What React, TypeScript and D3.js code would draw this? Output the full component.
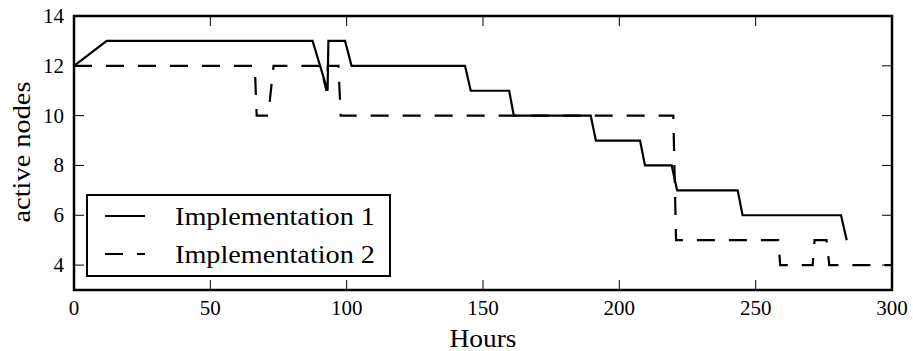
import React, { useRef, useEffect } from 'react';
import * as d3 from 'd3';

// values
const impl1Hours = [0, 12, 87.5, 93, 93.3, 99.4, 101.8, 143.4, 145.5, 159.6, 161.3, 189.5, 191.4, 207.6, 209.4, 219.2, 221.2, 243.4, 245.2, 281.3, 283.4];
const impl1Nodes = [12, 13, 13, 11, 13, 13, 12, 12, 11, 11, 10, 10, 9, 9, 8, 8, 7, 7, 6, 6, 5];

const impl2Hours = [0, 66.3, 67, 71.2, 73.2, 90.3, 92.6, 93.1, 97, 97.8, 219.8, 220.8, 258.3, 259, 270.9, 271.6, 276, 277, 300];
const impl2Nodes = [12, 12, 10, 10, 12, 12, 11, 12, 12, 10, 10, 5, 5, 4, 4, 5, 5, 4, 4];

const xTicks = [0, 50, 100, 150, 200, 250, 300];
const yTicks = [4, 6, 8, 10, 12, 14];
const seriesNames = ['Implementation 1', 'Implementation 2'];

const W = 913, H = 351;
const left = 74, right = 892, top = 16, bottom = 290;
const FONT = '"Liberation Serif", serif';
const DASH = '18 14';

const App = () => {
  const svgRef = useRef(null);

  useEffect(() => {
    const svg = d3.select(svgRef.current);
    svg.selectAll('*').remove();

    const x = d3.scaleLinear().domain([0, 300]).range([left, right]);
    const y = d3.scaleLinear().domain([3, 14]).range([bottom, top]);

    const line = d3.line<[number, number]>()
      .x(d => x(d[0]))
      .y(d => y(d[1]));

    const s1 = impl1Hours.map((h, i) => [h, impl1Nodes[i]] as [number, number]);
    const s2 = impl2Hours.map((h, i) => [h, impl2Nodes[i]] as [number, number]);

    svg.append('defs').append('clipPath').attr('id', 'plotclip')
      .append('rect')
      .attr('x', left).attr('y', top)
      .attr('width', right - left).attr('height', bottom - top);

    const g = svg.append('g').attr('clip-path', 'url(#plotclip)');

    g.append('path')
      .attr('d', line(s2))
      .attr('fill', 'none')
      .attr('stroke', '#000')
      .attr('stroke-width', 2.2)
      .attr('stroke-dasharray', DASH);

    g.append('path')
      .attr('d', line(s1))
      .attr('fill', 'none')
      .attr('stroke', '#000')
      .attr('stroke-width', 2.2);

    // inward ticks on all four sides
    const tickLen = 10;
    const ticks = svg.append('g').attr('stroke', '#000').attr('stroke-width', 1);
    xTicks.forEach(t => {
      ticks.append('line').attr('x1', x(t)).attr('x2', x(t)).attr('y1', bottom).attr('y2', bottom - tickLen);
      ticks.append('line').attr('x1', x(t)).attr('x2', x(t)).attr('y1', top).attr('y2', top + tickLen);
    });
    yTicks.forEach(t => {
      ticks.append('line').attr('x1', left).attr('x2', left + tickLen).attr('y1', y(t)).attr('y2', y(t));
      ticks.append('line').attr('x1', right).attr('x2', right - tickLen).attr('y1', y(t)).attr('y2', y(t));
    });

    // spines
    svg.append('rect')
      .attr('x', left).attr('y', top)
      .attr('width', right - left).attr('height', bottom - top)
      .attr('fill', 'none')
      .attr('stroke', '#000')
      .attr('stroke-width', 2.5);

    // tick labels
    svg.append('g').selectAll('text').data(xTicks).join('text')
      .attr('x', d => x(d))
      .attr('y', bottom + 25)
      .attr('text-anchor', 'middle')
      .attr('font-family', FONT)
      .attr('font-size', 21)
      .text(d => d);

    svg.append('g').selectAll('text').data(yTicks).join('text')
      .attr('x', left - 10)
      .attr('y', d => y(d) + 7)
      .attr('text-anchor', 'end')
      .attr('font-family', FONT)
      .attr('font-size', 21)
      .text(d => d);

    // axis labels
    svg.append('text')
      .attr('x', (left + right) / 2)
      .attr('y', 347)
      .attr('text-anchor', 'middle')
      .attr('font-family', FONT)
      .attr('font-size', 25)
      .attr('textLength', 67)
      .attr('lengthAdjust', 'spacingAndGlyphs')
      .text('Hours');

    svg.append('text')
      .attr('transform', `translate(30, 152) rotate(-90)`)
      .attr('text-anchor', 'middle')
      .attr('font-family', FONT)
      .attr('font-size', 25)
      .attr('textLength', 141)
      .attr('lengthAdjust', 'spacingAndGlyphs')
      .text('active nodes');

    // legend
    const lg = svg.append('g');
    lg.append('rect')
      .attr('x', 87).attr('y', 195)
      .attr('width', 303).attr('height', 81)
      .attr('fill', '#fff')
      .attr('stroke', '#000')
      .attr('stroke-width', 2);

    seriesNames.forEach((name, i) => {
      const ly = 216 + i * 38;
      lg.append('line')
        .attr('x1', 105).attr('x2', 145)
        .attr('y1', ly).attr('y2', ly)
        .attr('stroke', '#000')
        .attr('stroke-width', 2.2)
        .attr('stroke-dasharray', i === 1 ? DASH : null);
      lg.append('text')
        .attr('x', 175)
        .attr('y', ly + 9)
        .attr('font-family', FONT)
        .attr('font-size', 26)
        .attr('textLength', 200)
        .attr('lengthAdjust', 'spacingAndGlyphs')
        .text(name);
    });
  }, []);

  return (
    <svg
      ref={svgRef}
      width={W}
      height={H}
      style={{ position: 'absolute', left: 0, top: 0, background: '#fff' }}
    />
  );
};

export default App;
